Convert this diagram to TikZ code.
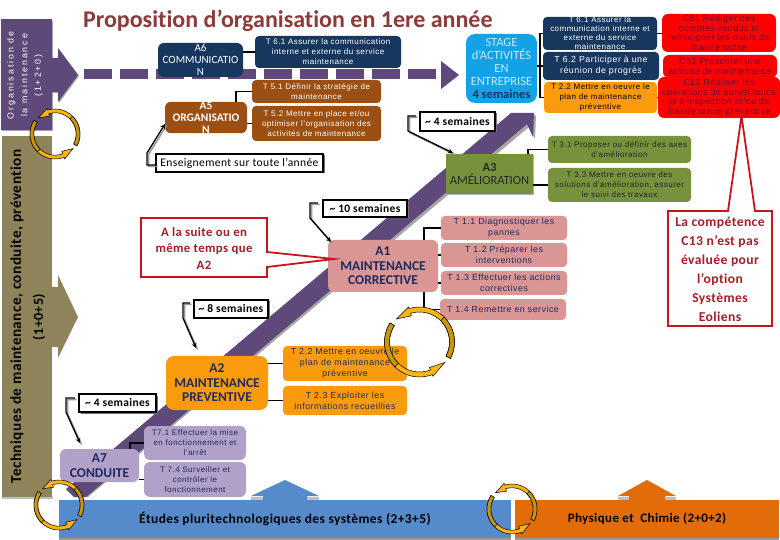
\documentclass[tikz,border=0pt]{standalone}
\usepackage{fontspec}
\setmainfont[Ligatures=NoCommon]{Carlito}
\newfontfamily\tfont[LetterSpace=6]{Liberation Sans}
\newfontfamily\cfont[LetterSpace=3,Ligatures=NoCommon]{Carlito}
\newfontfamily\wfont[LetterSpace=22]{Liberation Sans}
\usetikzlibrary{shadows,arrows.meta}
\definecolor{navy}{HTML}{17375E}
\definecolor{brownt}{HTML}{9C4F12}
\definecolor{purp}{HTML}{5F497A}
\definecolor{olive}{HTML}{8F8459}
\definecolor{greent}{HTML}{76923C}
\definecolor{pinkt}{HTML}{D99694}
\definecolor{oranget}{HTML}{F99B0C}
\definecolor{lav}{HTML}{B1A0C7}
\definecolor{stageb}{HTML}{12A3E6}
\definecolor{stagel}{HTML}{C9EAF8}
\definecolor{redc}{HTML}{FF0000}
\definecolor{redl}{HTML}{C8141E}
\definecolor{redt}{HTML}{A51E28}
\definecolor{titlec}{HTML}{8C3A3A}
\definecolor{inkn}{HTML}{1F2A60}
\definecolor{inkc}{HTML}{6E0030}
\definecolor{blueb}{HTML}{558ACB}
\definecolor{orb}{HTML}{E36C0A}
\definecolor{goldd}{HTML}{C8960E}
\definecolor{goldl}{HTML}{FDB515}
\tikzset{
 x=1pt,y=-1pt,
 base/.style={inner sep=0pt,outer sep=0pt,align=center},
 rbox/.style={base,rounded corners=4pt},
 tasksm/.style={rbox,font=\tfont\fontsize{8}{10}\selectfont},
 tasktight/.style={rbox,font=\tfont\fontsize{8}{9}\selectfont},
 tasklg/.style={rbox,font=\tfont\fontsize{8.8}{11}\selectfont},
 taskred/.style={rbox,rounded corners=6pt,fill=redc,text=inkc,font=\tfont\fontsize{8.8}{9.6}\selectfont},
 main/.style={rbox,rounded corners=6pt,font=\bfseries\fontsize{13.5}{14.5}\selectfont,text=inkn},
 labelbox/.style={base,draw=black,line width=1.2pt,fill=white,font=\cfont\bfseries\fontsize{11.5}{13}\selectfont,
   drop shadow={shadow xshift=1.5pt,shadow yshift=-1.5pt,fill=black!55,opacity=1}},
 conn/.style={draw=black,line width=1.2pt},
 bent/.style={line width=1.3pt,-{Stealth[length=5pt,width=5pt]}},
 bentshadow/.style={draw=black!40,line width=1.5pt,transform canvas={xshift=1.5pt,yshift=-1.5pt}},
 callout/.style={draw=redl,line width=1.8pt,fill=white,line join=miter},
 calltext/.style={base,text=redt,font=\cfont\bfseries},
}
\newcommand\bx[7]{\node[#6,minimum width={(#4-#3)*1pt},minimum height={(#5-#2)*1pt}] (#1) at ({(#3+#4)/2},{(#2+#5)/2}) {#7};}
% name, y1, x1, x2, y2, style, text
\newcommand\band[6]{% cx cy r a1 a2 width
 \begin{scope}[shift={(#1,#2)},y=1pt]
  \pgfmathsetmacro\ah{#5-(#5-#4)*0.17}
  \pgfmathsetmacro\am{#4+(#5-#4)*0.45}
  \pgfmathsetmacro\ri{#3-#6}
  \pgfmathsetmacro\ro{#3+1.8}
  \pgfmathsetmacro\rn{#3-#6-2.6}
  \pgfmathsetmacro\rt{#3-#6/2}
  \fill[goldl,draw=black,line width=.5pt] plot[domain=#4:\ah,samples=24] ({#3*cos(\x)},{#3*sin(\x)})
    -- ({\ro*cos(\ah)},{\ro*sin(\ah)}) -- ({\rt*cos(#5)},{\rt*sin(#5)}) -- ({\rn*cos(\ah)},{\rn*sin(\ah)})
    -- plot[domain=\ah:#4,samples=24] ({\ri*cos(\x)},{\ri*sin(\x)}) -- cycle;
  \fill[goldd,draw=black,line width=.5pt] plot[domain=#4:\am,samples=16] ({#3*cos(\x)},{#3*sin(\x)})
    -- plot[domain=\am:#4,samples=16] ({\ri*cos(\x)},{\ri*sin(\x)}) -- cycle;
 \end{scope}}
\newcommand\circarrows[4]{\band{#1}{#2}{#3}{-28}{135}{#4}\band{#1}{#2}{#3}{147}{321}{#4}}
\newcommand\tld{\symbol{126}}
\begin{document}
\begin{tikzpicture}
\useasboundingbox (0,0) rectangle (780,540);
\fill[white] (0,0) rectangle (780,540);
% side blocks
\fill[black!25] (2,497) rectangle (53,499);
\fill[olive] (2,136) rectangle (52,497);
\fill[olive] (50,287) -- (58,287) -- (58,275) -- (78,317) -- (58,358) -- (58,347) -- (50,347) -- cycle;
\fill[black!35] (2,21) rectangle (53,131.5);
\fill[black!35] (52,59) -- (59,59) -- (59,49) -- (79,76) -- (59,103) -- (59,93) -- (52,93) -- cycle;
\fill[purp] (1,19) rectangle (52,130);
\fill[purp] (50,58) -- (58,58) -- (58,48) -- (78,75) -- (58,102) -- (58,92) -- (50,92) -- cycle;
\node[base,rotate=90,text=white,font=\wfont\fontsize{8.8}{13.6}\selectfont] (orgtxt) at (25,75.5) {Organisation de\\la maintenance\\(1+2+0)};
\node[base,rotate=90,text=black,font=\cfont\bfseries\fontsize{15.2}{15}\selectfont] (techtxt) at (17,316.5) {Techniques de maintenance, conduite, prévention};
\node[base,rotate=90,text=black,font=\cfont\bfseries\fontsize{14}{15}\selectfont] (tech2) at (39,317) {(1+0+5)};
% title
\node[base,anchor=west,text=titlec,font=\bfseries\fontsize{24}{26}\selectfont] (title) at (83,21) {Proposition d’organisation en 1ere année};
% dashed arrow
\foreach \d in {84,120,...,408} \fill[purp] (\d,69) rectangle ++(28,10);
\fill[purp] (441,61) -- (459,75) -- (441,89) -- cycle;
% diagonal arrow
\fill[black!35] (80,497) -- (526,119) -- (536,115) -- (535,139) -- (529,127) -- (88,497) -- cycle;
\fill[purp] (66,489) -- (511,113) -- (534,113) -- (533,137) -- (527,124) -- (86,497) -- (74,497) -- cycle;
% bottom bands
\fill[black!40] (59,534) rectangle (511,540);
\fill[black!40] (515,534) rectangle (779,540);
\fill[black!25] (251,497) rectangle (319,500);
\fill[black!25] (618,497) rectangle (676,500);
\node[base,fill=blueb,minimum width=452pt,minimum height=38pt,text=black,font=\cfont\bfseries\fontsize{13.5}{15}\selectfont] (etudes) at (285,519) {Études pluritechnologiques des systèmes (2+3+5)};
\node[base,fill=orb,minimum width=264pt,minimum height=38pt,text=black,font=\cfont\bfseries\fontsize{13}{15}\selectfont] (phys) at (647,519) {Physique et\ \ Chimie (2+0+2)};
\fill[blueb] (285,480) -- (319,496) -- (307,496) -- (307,501) -- (263,501) -- (263,496) -- (251,496) -- cycle;
\fill[orb] (647,480) -- (676,496) -- (665,496) -- (665,501) -- (629,501) -- (629,496) -- (618,496) -- cycle;
% mid column, A6 / A5
\bx{aSix}{43}{158}{243}{77}{main,fill=navy,text=white,font=\fontsize{11}{12}\selectfont}{A6\\COMMUNICATIO\\N}
\bx{tSixOne}{36}{255}{401}{68}{tasksm,fill=navy,text=white}{T 6.1 Assurer la communication\\interne et externe du service\\maintenance}
\bx{aFive}{104}{165}{247}{131}{main,fill=brownt,text=white,font=\bfseries\fontsize{11.5}{12}\selectfont}{A5\\ORGANISATIO\\N}
\bx{tFiveOne}{80}{252}{381}{103}{tasksm,fill=brownt,text=white}{T 5.1 Définir la stratégie de\\maintenance}
\bx{tFiveTwo}{106}{252}{381}{141}{tasksm,fill=brownt,text=white}{T 5.2 Mettre en place et/ou\\optimiser l’organisation des\\activités de maintenance}
\bx{stage}{34}{466}{537}{103}{main,rounded corners=9pt,fill=stageb,text=stagel,font=\fontsize{12.5}{13}\selectfont}{STAGE\\d'ACTIVITÉS\\EN\\ENTREPRISE\\{\color{navy}\bfseries 4 semaines}}
% right column
\bx{rSixOne}{17}{543}{657}{50}{tasktight,fill=navy,text=white}{T 6.1 Assurer la\\communication interne et\\externe du service\\maintenance}
\bx{rSixTwo}{52}{543}{659}{80}{tasklg,fill=navy,text=white}{T 6.2 Participer à une\\réunion de progrès}
\bx{rTwoTwo}{82}{544}{657}{113}{tasksm,fill=oranget,text=black}{T 2.2 Mettre en oeuvre le\\plan de maintenance\\préventive}
\bx{cFiveOne}{14}{662}{776}{52}{taskred}{C51 Rédiger des\\comptes-rendus et\\renseigner les outils de\\maintenance}
\bx{cFiveTwo}{55}{663}{777}{78}{taskred}{C52 Présenter une\\activité de maintenance}
\bx{cOneThree}{77}{658}{780}{118}{taskred}{C13 Réaliser les\\opérations de surveillance\\et d’inspection et/ou de\\maintenance préventive}
% A3
\bx{aThree}{154}{446}{533}{194}{base,fill=greent,text=black!85,font=\fontsize{12.5}{13}\selectfont,drop shadow={shadow xshift=1pt,shadow yshift=-1pt,fill=black!30,opacity=1}}{\textbf{A3}\\AMÉLIORATION}
\bx{tThreeOne}{136}{548}{691}{163}{tasksm,fill=greent,text=black!85}{T 3.1 Proposer ou définir des axes\\d’amélioration}
\bx{tThreeThree}{168}{548}{691}{202}{tasksm,fill=greent,text=black!85}{T 3.3 Mettre en oeuvre des\\solutions d’amélioration, assurer\\le suivi des travaux}
% A1
\bx{aOne}{240}{328}{438}{292}{main,fill=pinkt}{A1\\MAINTENANCE\\CORRECTIVE}
\bx{tOneOne}{216}{441}{567}{240}{tasklg,fill=pinkt,text=inkn}{T 1.1 Diagnostiquer les\\pannes}
\bx{tOneTwo}{243}{441}{567}{267}{tasklg,fill=pinkt,text=inkn}{T 1.2 Préparer les\\interventions}
\bx{tOneThree}{271}{441}{567}{295}{tasklg,fill=pinkt,text=inkn}{T 1.3 Effectuer les actions\\correctives}
\bx{tOneFour}{299}{440}{566}{320}{tasklg,fill=pinkt,text=inkn}{T 1.4 Remettre en service}
% A2
\bx{aTwo}{356}{166}{268}{410}{main,rounded corners=8pt,fill=oranget}{A2\\MAINTENANCE\\PREVENTIVE}
\bx{tTwoTwo}{346}{283}{407}{381}{tasklg,fill=oranget,text=inkn}{T 2.2 Mettre en oeuvre le\\plan de maintenance\\préventive}
\bx{tTwoThree}{386}{283}{407}{415}{tasklg,fill=oranget,text=inkn}{T 2.3 Exploiter les\\informations recueillies}
% A7
\bx{aSeven}{449}{60}{139}{482}{main,fill=lav}{A7\\CONDUITE}
\bx{tSevenOne}{426}{144}{246}{460}{tasksm,fill=lav,text=inkn,rounded corners=6pt}{T7.1 Effectuer la mise\\en fonctionnement et\\l’arrêt}
\bx{tSevenFour}{462}{144}{246}{497}{tasksm,fill=lav,text=inkn,rounded corners=6pt}{T 7.4 Surveiller et\\contrôler le\\fonctionnement}
% connectors
\draw[conn] (tSixOne.west) -- (tSixOne.west -| aSix.east);
\draw[conn] (tFiveOne.west) -| ([xshift=30pt]aFive.north);
\draw[conn] (tFiveTwo.west) -- (tFiveTwo.west -| aFive.east);
\draw[conn] (rSixOne.west) -| ([xshift=-4pt]rTwoTwo.west) -- (rTwoTwo.west);
\draw[conn] (rSixTwo.west) -- (rSixTwo.west -| stage.east);
\draw[conn] (rSixOne.east) -- (rSixOne.east -| cFiveOne.west);
\draw[conn] (rTwoTwo.east) -- (rTwoTwo.east -| cOneThree.west);
\draw[conn] (tThreeOne.west) -| ([xshift=38.5pt]aThree.north);
\draw[conn] (tThreeThree.west) -- (tThreeThree.west -| aThree.east);
\draw[conn] (tOneOne.west) -| ([xshift=41pt]aOne.north);
\draw[conn] (tOneFour.west) -| ([xshift=41pt]aOne.south);
\draw[conn] (tOneTwo.west) -- (tOneTwo.west -| aOne.east);
\draw[conn] (tOneThree.west) -- (tOneThree.west -| aOne.east);
\draw[conn] (tTwoTwo.west) -- (tTwoTwo.west -| aTwo.east);
\draw[conn] (tTwoThree.west) -- (tTwoThree.west -| aTwo.east);
\draw[conn] (tSevenOne.west) -| ([xshift=30.5pt]aSeven.north);
\draw[conn] (tSevenFour.west) -- (tSevenFour.west -| aSeven.east);
% labels
\bx{lEns}{154}{156}{323}{172}{labelbox,font=\cfont\fontsize{11.6}{13}\selectfont}{Enseignement sur toute l’année}
\bx{lFourA}{112}{420}{495}{131}{labelbox}{\tld\ 4 semaines}
\bx{lTen}{200}{323}{407}{217}{labelbox}{\tld\ 10 semaines}
\bx{lEight}{300}{194}{268}{318}{labelbox}{\tld\ 8 semaines}
\bx{lFourB}{394}{79}{156}{412}{labelbox}{\tld\ 4 semaines}
% bent arrows: node, target, horizontal run, start shift, vertical run, gap
\newcommand\bentarrow[6]{%
 \draw[bentshadow] ([xshift=-#6,yshift=#4]#1.west) -- +(-#3,0) -- +(-#3,#5) -- (#2);
 \draw[bent] ([xshift=-#6,yshift=#4]#1.west) -- +(-#3,0) -- +(-#3,#5) -- (#2);}
\coordinate (pEns) at (165,124);
\coordinate (pFourA) at (453,153);
\coordinate (pTen) at (331,242);
\coordinate (pEight) at (196,348);
\coordinate (pFourB) at (80,443);
\bentarrow{lEns}{pEns}{9}{-2pt}{-12}{0pt}
\bentarrow{lFourA}{pFourA}{8}{5.5pt}{15}{4pt}
\bentarrow{lTen}{pTen}{8}{5.5pt}{15}{5pt}
\bentarrow{lEight}{pEight}{7}{6pt}{15}{4pt}
\bentarrow{lFourB}{pFourB}{9}{5pt}{14}{4pt}
% callouts
\draw[callout] (141,218) -- (267,218) -- (267,252) -- (334,259) -- (267,267) -- (267,277) -- (141,277) -- cycle;
\node[calltext,font=\cfont\bfseries\fontsize{12.8}{16.5}\selectfont] (cLeftText) at (204,248.5) {A la suite ou en\\même temps que\\A2};
\draw[callout] (668,211) -- (728,211) -- (741.5,116) -- (755,211) -- (772,211) -- (772,326) -- (668,326) -- cycle;
\node[calltext,font=\cfont\bfseries\fontsize{13.6}{19}\selectfont] (cRightText) at (720,269.5) {La compétence\\C13 n’est pas\\évaluée pour\\l’option\\Systèmes\\Eoliens};
% cycle arrows
\circarrows{55}{134}{25}{3.8}
\circarrows{59}{505}{25}{3.8}
\circarrows{512}{509}{25}{3.8}
\circarrows{419.5}{342}{35}{5}
\end{tikzpicture}
\end{document}
